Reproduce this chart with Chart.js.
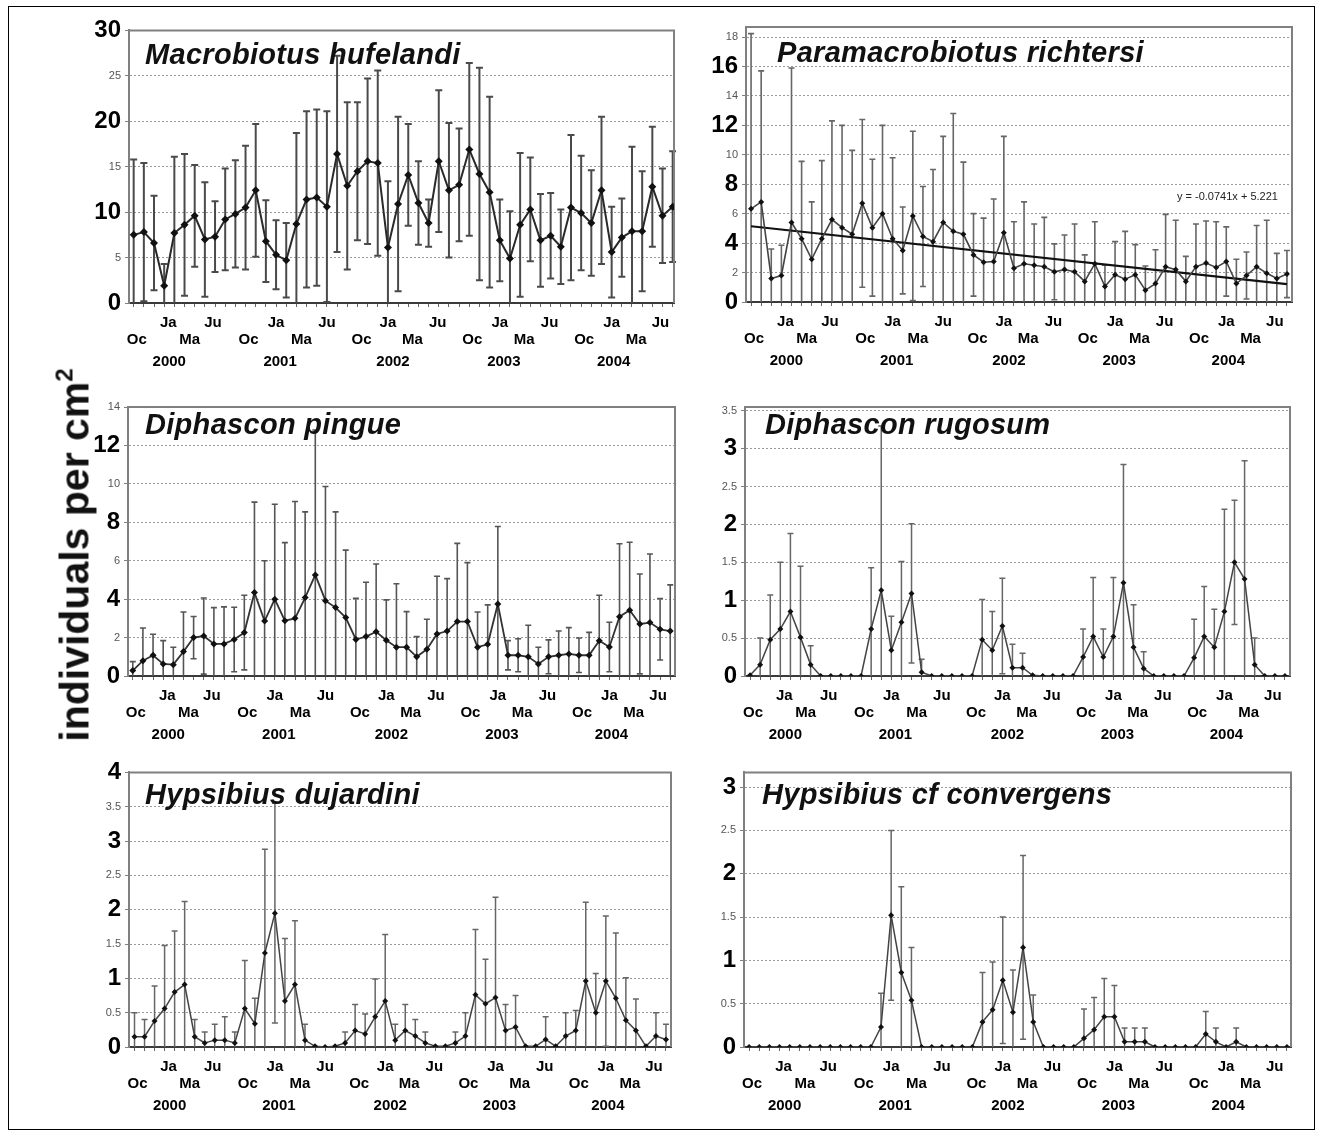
<!DOCTYPE html>
<html>
<head>
<meta charset="utf-8">
<title>Tardigrade densities 2000-2004</title>
<script src="https://cdn.jsdelivr.net/npm/chart.js@4.4.1/dist/chart.umd.min.js"></script>
<style>
  html, body { margin: 0; padding: 0; background: #fff; }
  body { width: 1322px; height: 1138px; position: relative; overflow: hidden;
         font-family: "Liberation Sans", Arial, sans-serif; }
  #frame { position: absolute; left: 8px; top: 6px; width: 1307px; height: 1124px;
           border: 1px solid #000; box-sizing: border-box; }
  canvas { position: absolute; }
  .title { position: absolute; font: italic bold 29px "Liberation Sans", Arial, sans-serif;
           line-height: 29px; color: #111; white-space: nowrap; z-index: 2; letter-spacing: 0.3px; }
  #ylab { position: absolute; left: 75px; top: 555px; z-index: 3;
          transform: translate(-50%, -50%) rotate(-90deg);
          font: bold 41px "Liberation Sans", Arial, sans-serif; white-space: nowrap; color: #111; }
  #ylab sup { font-size: 24px; vertical-align: 16px; line-height: 0; }
  #trend { position: absolute; font: 11px "Liberation Sans", Arial, sans-serif; color: #222;
           white-space: nowrap; z-index: 2; }
</style>
</head>
<body>
<div id="frame"></div>
<div id="ylab">individuals per cm<sup>2</sup></div>

<script>
// ---- sampling axis -------------------------------------------------------
const sampleIndex = Array.from({ length: 54 }, (_, i) => i);

const monthLabels = ['Oc', 'Ja', 'Ma', 'Ju', 'Oc', 'Ja', 'Ma', 'Ju', 'Oc', 'Ja', 'Ma', 'Ju',
                     'Oc', 'Ja', 'Ma', 'Ju', 'Oc', 'Ja', 'Ma', 'Ju'];
const monthPos = [0.3, 3.4, 5.5, 7.8, 11.3, 14.0, 16.5, 19.0, 22.4, 25.0, 27.4, 29.9,
                  33.3, 36.0, 38.4, 40.9, 44.3, 47.0, 49.4, 51.8];
const yearLabels = ['2000', '2001', '2002', '2003', '2004'];
const yearPos = [3.5, 14.4, 25.5, 36.4, 47.2];

// ---- mean and standard deviation per sample (individuals per cm2) --------
const hufelandiMean = [7.5, 7.8, 6.6, 1.9, 7.7, 8.6, 9.6, 7.0, 7.3, 9.2, 9.8, 10.5, 12.4, 6.8, 5.3, 4.7, 8.7, 11.4,
  11.6, 10.6, 16.4, 12.9, 14.5, 15.6, 15.4, 6.1, 10.9, 14.1, 11.0, 8.8, 15.6, 12.4, 13.0, 16.9, 14.2, 12.2,
  6.9, 4.9, 8.6, 10.3, 6.9, 7.4, 6.2, 10.5, 9.9, 8.8, 12.4, 5.6, 7.2, 7.9, 7.9, 12.8, 9.6, 10.6];
const hufelandiSD = [8.3, 7.6, 5.2, 2.4, 8.4, 7.8, 5.6, 6.3, 3.9, 5.6, 5.9, 6.8, 7.3, 4.5, 3.8, 4.1, 10.0, 9.7,
  9.7, 10.5, 10.8, 9.2, 7.6, 9.1, 10.2, 7.3, 9.6, 5.6, 4.6, 2.6, 7.8, 7.4, 6.2, 9.5, 11.7, 10.5,
  4.5, 5.2, 7.9, 5.7, 5.1, 4.7, 4.1, 8.0, 6.3, 5.8, 8.1, 5.0, 4.3, 9.3, 6.6, 6.6, 5.2, 6.1];

const richtersiMean = [6.33, 6.8, 1.6, 1.8, 5.4, 4.3, 2.9, 4.3, 5.6, 5.05, 4.6, 6.7, 5.05, 6.0, 4.3, 3.5, 5.85, 4.45,
  4.1, 5.4, 4.8, 4.6, 3.2, 2.7, 2.75, 4.7, 2.3, 2.6, 2.5, 2.4, 2.05, 2.2, 2.05, 1.4, 2.6, 1.05,
  1.85, 1.55, 1.85, 0.8, 1.25, 2.4, 2.2, 1.4, 2.4, 2.65, 2.35, 2.75, 1.25, 1.8, 2.4, 1.95, 1.6, 1.9];
const richtersiSD = [11.9, 8.9, 2.0, 2.05, 10.5, 5.25, 3.9, 5.3, 6.7, 6.95, 5.7, 5.7, 4.65, 6.0, 5.5, 2.95, 5.75, 3.4,
  4.9, 5.85, 8.0, 4.9, 2.8, 3.0, 4.25, 6.55, 3.15, 4.2, 2.8, 3.35, 1.9, 2.35, 3.25, 1.8, 2.85, 1.45,
  2.25, 3.25, 2.05, 1.65, 2.3, 3.55, 3.35, 1.7, 2.9, 2.85, 3.1, 2.35, 1.65, 1.6, 2.8, 3.6, 1.7, 1.6];
const richtersiTrendSlope = -0.0741;
const richtersiTrendIntercept = 5.221;

const pingueMean = [0.28, 0.8, 1.08, 0.63, 0.59, 1.27, 2.0, 2.08, 1.67, 1.67, 1.9, 2.26, 4.34, 2.86, 4.0, 2.88, 3.0, 4.08,
  5.26, 3.92, 3.56, 3.04, 1.9, 2.05, 2.3, 1.86, 1.5, 1.5, 1.0, 1.39, 2.19, 2.34, 2.83, 2.83, 1.5, 1.65,
  3.75, 1.08, 1.08, 1.0, 0.63, 1.0, 1.08, 1.15, 1.08, 1.08, 1.84, 1.51, 3.09, 3.42, 2.71, 2.78, 2.43, 2.34];
const pingueSD = [0.47, 1.7, 1.09, 1.21, 0.91, 2.06, 1.1, 1.98, 1.89, 1.93, 1.68, 1.94, 4.71, 3.14, 4.94, 4.06, 6.08, 4.46,
  7.54, 5.94, 4.98, 3.51, 2.15, 2.83, 3.53, 2.1, 3.3, 1.85, 1.05, 1.56, 3.0, 2.73, 4.07, 3.07, 1.83, 2.05,
  4.03, 0.76, 0.86, 1.64, 0.87, 0.88, 1.26, 1.37, 0.9, 1.19, 2.36, 1.29, 3.79, 3.54, 2.6, 3.57, 1.6, 2.4];

const rugosumMean = [0.01, 0.15, 0.48, 0.62, 0.85, 0.51, 0.15, 0, 0, 0, 0, 0, 0.62, 1.13, 0.34, 0.71, 1.09, 0.05,
  0, 0, 0, 0, 0, 0.48, 0.34, 0.66, 0.11, 0.11, 0.01, 0, 0, 0, 0, 0.25, 0.52, 0.25,
  0.52, 1.23, 0.38, 0.1, 0, 0, 0, 0, 0.24, 0.52, 0.38, 0.85, 1.5, 1.28, 0.15, 0, 0, 0];
const rugosumSD = [0, 0.35, 0.59, 0.88, 1.03, 0.94, 0.25, 0, 0, 0, 0, 0, 0.81, 2.17, 0.45, 0.8, 0.92, 0.17,
  0, 0, 0, 0, 0, 0.53, 0.51, 0.63, 0.31, 0.19, 0, 0, 0, 0, 0, 0.37, 0.78, 0.37,
  0.78, 1.56, 0.56, 0.22, 0, 0, 0, 0, 0.51, 0.66, 0.5, 1.35, 0.82, 1.56, 0.35, 0, 0, 0];

const dujardiniMean = [0.15, 0.15, 0.38, 0.56, 0.8, 0.91, 0.15, 0.06, 0.1, 0.1, 0.06, 0.56, 0.34, 1.37, 1.95, 0.67, 0.91, 0.1,
  0.01, 0, 0.01, 0.06, 0.24, 0.19, 0.44, 0.67, 0.1, 0.24, 0.16, 0.06, 0.01, 0.01, 0.06, 0.16, 0.76, 0.63,
  0.72, 0.24, 0.29, 0.01, 0.01, 0.11, 0.01, 0.16, 0.24, 0.96, 0.5, 0.96, 0.71, 0.39, 0.24, 0.01, 0.16, 0.11];
const dujardiniSD = [0.35, 0.25, 0.51, 0.92, 0.89, 1.21, 0.25, 0.16, 0.23, 0.34, 0.16, 0.7, 0.37, 1.51, 1.6, 0.91, 0.93, 0.23,
  0, 0, 0, 0.16, 0.38, 0.29, 0.55, 0.97, 0.23, 0.38, 0.24, 0.16, 0, 0, 0.16, 0.34, 0.95, 0.65,
  1.46, 0.38, 0.46, 0, 0, 0.33, 0, 0.34, 0.29, 1.15, 0.57, 0.95, 0.95, 0.62, 0.46, 0, 0.34, 0.22];

const convergensMean = [0, 0, 0, 0, 0, 0, 0, 0, 0, 0, 0, 0, 0, 0.23, 1.52, 0.86, 0.54, 0,
  0, 0, 0, 0, 0, 0.29, 0.43, 0.77, 0.4, 1.15, 0.29, 0, 0, 0, 0, 0.1, 0.2, 0.35,
  0.35, 0.06, 0.06, 0.06, 0, 0, 0, 0, 0, 0.15, 0.06, 0, 0.06, 0, 0, 0, 0, 0];
const convergensSD = [0, 0, 0, 0, 0, 0, 0, 0, 0, 0, 0, 0, 0, 0.39, 0.98, 0.99, 0.61, 0,
  0, 0, 0, 0, 0, 0.57, 0.55, 0.73, 0.49, 1.06, 0.31, 0, 0, 0, 0, 0.34, 0.37, 0.44,
  0.36, 0.16, 0.16, 0.16, 0, 0, 0, 0, 0, 0.26, 0.16, 0, 0.16, 0, 0, 0, 0, 0];

// ---- panel layout and styling --------------------------------------------
const FONT = '"Liberation Sans", Arial, sans-serif';
Chart.defaults.font.family = FONT;

const panels = [
  { title: 'Macrobiotus hufelandi', titleAt: [145, 64], rect: [129, 30, 674, 303], xMin: -0.46, xMax: 53.13,
    yMax: 30, step: 5, major: 10, mean: hufelandiMean, sd: hufelandiSD,
    lineColor: '#2a2a2a', lineWidth: 2, barColor: '#4a4a4a', barWidth: 2, cap: 3.5, radius: 4 },
  { title: 'Paramacrobiotus richtersi', titleAt: [777, 62], rect: [746, 27, 1292, 302], xMin: -0.5, xMax: 53.5,
    yMax: 18.68, step: 2, major: 4, mean: richtersiMean, sd: richtersiSD, trend: true,
    lineColor: '#444', lineWidth: 1.6, barColor: '#666', barWidth: 1.6, cap: 3, radius: 3 },
  { title: 'Diphascon pingue', titleAt: [145, 434], rect: [128, 407, 675, 676], xMin: -0.47, xMax: 53.47,
    yMax: 14, step: 2, major: 4, mean: pingueMean, sd: pingueSD,
    lineColor: '#333', lineWidth: 1.8, barColor: '#555', barWidth: 1.6, cap: 3, radius: 3.5 },
  { title: 'Diphascon rugosum', titleAt: [765, 434], rect: [745, 407, 1290, 676], xMin: -0.5, xMax: 53.5,
    yMax: 3.55, step: 0.5, major: 1, mean: rugosumMean, sd: rugosumSD,
    lineColor: '#444', lineWidth: 1.5, barColor: '#666', barWidth: 1.5, cap: 3, radius: 3 },
  { title: 'Hypsibius dujardini', titleAt: [145, 804], rect: [129, 772, 671, 1047], xMin: -0.55, xMax: 53.5,
    yMax: 4, step: 0.5, major: 1, mean: dujardiniMean, sd: dujardiniSD,
    lineColor: '#444', lineWidth: 1.5, barColor: '#666', barWidth: 1.5, cap: 3, radius: 3 },
  { title: 'Hypsibius cf convergens', titleAt: [762, 804], rect: [744, 772, 1291, 1047], xMin: -0.5, xMax: 53.4,
    yMax: 3.17, step: 0.5, major: 1, mean: convergensMean, sd: convergensSD,
    lineColor: '#444', lineWidth: 1.5, barColor: '#666', barWidth: 1.5, cap: 3, radius: 3 }
];

// error bars (mean +/- SD) drawn through the chart's own scales
function errorBars(p) {
  return {
    id: 'errorBars',
    beforeDatasetsDraw(chart) {
      const { ctx, chartArea: a } = chart;
      const xs = chart.scales.x, ys = chart.scales.y;
      ctx.save();
      ctx.beginPath();
      ctx.rect(a.left, a.top - 2, a.right - a.left + 2, a.bottom - a.top + 2);
      ctx.clip();
      ctx.strokeStyle = p.barColor;
      ctx.lineWidth = p.barWidth;
      ctx.beginPath();
      p.mean.forEach((m, i) => {
        const s = p.sd[i];
        if (!(s > 0)) return;
        const x = xs.getPixelForValue(sampleIndex[i]);
        const yt = ys.getPixelForValue(m + s);
        const yb = ys.getPixelForValue(Math.max(m - s, -1));
        ctx.moveTo(x, yt); ctx.lineTo(x, yb);
        ctx.moveTo(x - p.cap, yt); ctx.lineTo(x + p.cap, yt);
        if (m - s > 0) { ctx.moveTo(x - p.cap, yb); ctx.lineTo(x + p.cap, yb); }
      });
      ctx.stroke();
      ctx.restore();
    }
  };
}

// top and right edges of the plot frame (left and bottom come from the axes)
const plotFrame = {
  id: 'plotFrame',
  beforeDatasetsDraw(chart) {
    const { ctx, chartArea: a } = chart;
    ctx.save();
    ctx.strokeStyle = '#808080';
    ctx.lineWidth = 2;
    ctx.beginPath();
    ctx.moveTo(a.left, a.top); ctx.lineTo(a.right, a.top); ctx.lineTo(a.right, a.bottom);
    ctx.stroke();
    ctx.restore();
  }
};

const YW = 70, PT = 18, PR = 14, XT = 5, XM = 44, XY = 30;

function buildPanel(p) {
  const [L, T, R, B] = p.rect;
  const w = YW + (R - L) + PR, h = PT + (B - T) + XT + XM + XY;
  const canvas = document.createElement('canvas');
  canvas.width = w; canvas.height = h;
  canvas.style.left = (L - YW) + 'px';
  canvas.style.top = (T - PT) + 'px';
  canvas.style.width = w + 'px';
  canvas.style.height = h + 'px';
  document.body.appendChild(canvas);

  const t = document.createElement('div');
  t.className = 'title';
  t.textContent = p.title;
  t.style.left = p.titleAt[0] + 'px';
  t.style.top = (p.titleAt[1] - 24.5) + 'px';
  document.body.appendChild(t);

  const isMajor = v => Math.abs(v / p.major - Math.round(v / p.major)) < 1e-6;
  const tickIsMajor = c => !!(c && c.tick && isMajor(c.tick.value));

  const datasets = [{
    data: p.mean.map((v, i) => ({ x: sampleIndex[i], y: v })),
    borderColor: p.lineColor,
    borderWidth: p.lineWidth,
    pointStyle: 'rectRot',
    pointRadius: p.radius,
    pointBackgroundColor: '#111',
    pointBorderColor: '#111',
    pointBorderWidth: 0,
    tension: 0,
    xAxisID: 'x', yAxisID: 'y'
  }];

  if (p.trend) {
    // least-squares line, sample number counted from 1
    const first = sampleIndex[0], last = sampleIndex[sampleIndex.length - 1];
    datasets.push({
      data: [first, last].map(i => ({ x: i, y: richtersiTrendSlope * (i + 1) + richtersiTrendIntercept })),
      borderColor: '#111', borderWidth: 2.2, pointRadius: 0, tension: 0,
      xAxisID: 'x', yAxisID: 'y'
    });
    const lab = document.createElement('div');
    lab.id = 'trend';
    lab.textContent = 'y = ' + richtersiTrendSlope + 'x + ' + richtersiTrendIntercept;
    lab.style.left = '1177px';
    lab.style.top = '190px';
    document.body.appendChild(lab);
  }

  new Chart(canvas, {
    type: 'line',
    data: { datasets },
    plugins: [errorBars(p), plotFrame],
    options: {
      responsive: false,
      animation: false,
      events: [],
      devicePixelRatio: 1,
      layout: { padding: { top: PT, right: PR, left: 0, bottom: 0 } },
      plugins: { legend: { display: false }, tooltip: { enabled: false } },
      scales: {
        x: {
          type: 'linear', position: 'bottom', weight: 0, min: p.xMin, max: p.xMax,
          afterBuildTicks: s => { s.ticks = sampleIndex.map(v => ({ value: v })); },
          afterFit: s => { s.height = XT; },
          ticks: { display: false, autoSkip: false },
          grid: { display: true, drawOnChartArea: false, drawTicks: true, tickLength: 4,
                  tickColor: '#666', tickWidth: 1 },
          border: { display: true, color: '#3a3a3a', width: 2 }
        },
        xm: {
          type: 'linear', position: 'bottom', weight: 1, min: p.xMin, max: p.xMax,
          afterBuildTicks: s => { s.ticks = monthPos.map(v => ({ value: v })); },
          afterFit: s => { s.height = XM; },
          ticks: {
            autoSkip: false, maxRotation: 0, minRotation: 0, padding: 7,
            font: { size: 15, weight: 'bold', lineHeight: 1.1 }, color: '#000',
            callback: (v, i) => {
              const m = monthLabels[i];
              return (m === 'Ja' || m === 'Ju') ? [m] : ['', m];
            }
          },
          grid: { display: false, drawTicks: false },
          border: { display: false }
        },
        xy: {
          type: 'linear', position: 'bottom', weight: 2, min: p.xMin, max: p.xMax,
          afterBuildTicks: s => { s.ticks = yearPos.map(v => ({ value: v })); },
          afterFit: s => { s.height = XY; },
          ticks: {
            autoSkip: false, maxRotation: 0, minRotation: 0, padding: 2,
            font: { size: 15, weight: 'bold', lineHeight: 1.0 }, color: '#000',
            callback: (v, i) => yearLabels[i]
          },
          grid: { display: false, drawTicks: false },
          border: { display: false }
        },
        y: {
          type: 'linear', position: 'left', min: 0, max: p.yMax,
          afterFit: s => { s.width = YW; },
          ticks: {
            stepSize: p.step, includeBounds: false, autoSkip: false, padding: 4,
            callback: v => String(+v.toFixed(2)),
            font: c => tickIsMajor(c) ? { size: 24, weight: 'bold' } : { size: 11, weight: 'normal' },
            color: c => tickIsMajor(c) ? '#000' : '#555'
          },
          grid: { color: '#9a9a9a', lineWidth: 1, drawTicks: true, tickLength: 4, tickColor: '#808080',
                  tickBorderDash: [] },
          border: { display: true, color: '#808080', width: 2, dash: [2, 2] }
        }
      }
    }
  });
}

panels.forEach(buildPanel);
</script>
</body>
</html>
